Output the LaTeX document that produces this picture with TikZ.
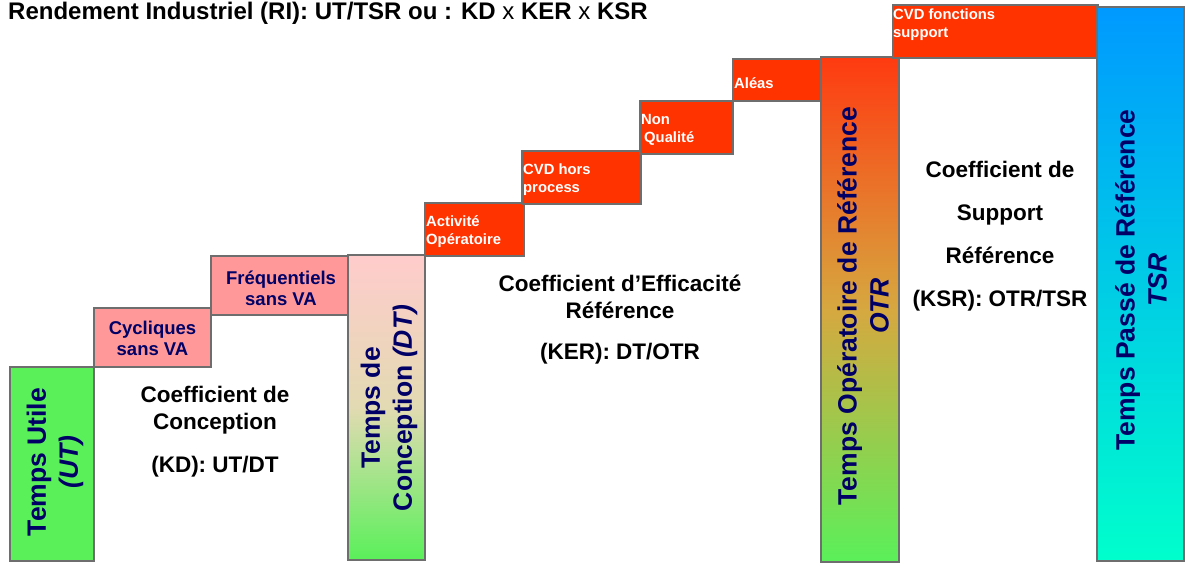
\documentclass[tikz,border=0pt]{standalone}
\usepackage{fontspec}
\setmainfont{Liberation Sans}
\usetikzlibrary{positioning}
\definecolor{bordergray}{RGB}{110,110,110}
\definecolor{navy}{RGB}{0,0,102}
\definecolor{stepred}{RGB}{255,51,0}
\definecolor{steppink}{RGB}{255,153,153}
\definecolor{utgreen}{RGB}{90,240,90}
\tikzset{box/.style={draw=bordergray, line width=1.8pt}}
\tikzset{redbox/.style={box, fill=stepred}}
\tikzset{pinkbox/.style={box, fill=steppink}}
\tikzset{redtxt/.style={text=white, font=\fontsize{14.8}{18}\selectfont\bfseries, align=left, inner sep=0pt, anchor=west}}
\tikzset{pinktxt/.style={text=navy, font=\fontsize{18.5}{21}\selectfont\bfseries, align=center, inner sep=0pt}}
\tikzset{bartxt/.style={text=navy, font=\fontsize{26.5}{32}\selectfont\bfseries, align=center, rotate=90, inner sep=0pt}}
\tikzset{coef/.style={text=black, font=\fontsize{22.5}{27}\selectfont\bfseries, align=center, inner sep=0pt}}

\begin{document}
\begin{tikzpicture}[x=1pt,y=-1pt]
  \useasboundingbox[fill=white] (0,0) rectangle (1186,564);
  \node[anchor=west, inner sep=0pt, font=\fontsize{24}{28}\selectfont\bfseries] (title) at (8,13)
    {Rendement Industriel (RI): UT/TSR ou : KD {\mdseries x} KER {\mdseries x} KSR};
  % steps
  \draw[box, fill=utgreen] (10,367) rectangle (94,561);
  \draw[pinkbox] (94,308) rectangle (211,367);
  \draw[pinkbox] (211,256) rectangle (348,315);
  \shadedraw[box, top color={rgb,255:red,255;green,204;blue,204}, bottom color=utgreen,
    middle color={rgb,255:red,226;green,218;blue,178}] (348,255) rectangle (425,560);
  \draw[redbox] (425,203) rectangle (524,256);
  \draw[redbox] (522,151) rectangle (641,204);
  \draw[redbox] (640,101) rectangle (733,154);
  \draw[redbox] (733,59) rectangle (821,101);
  \shadedraw[box, top color={rgb,255:red,255;green,58;blue,16}, bottom color=utgreen,
    middle color={rgb,255:red,214;green,168;blue,64}] (821,57) rectangle (899,562);
  \draw[redbox] (893,5) rectangle (1098,58);
  \shadedraw[box, top color={rgb,255:red,0;green,153;blue,255},
    bottom color={rgb,255:red,0;green,255;blue,204}] (1097,7) rectangle (1184,561);
  % labels
  \node[bartxt] (ut) at (55,462) {Temps Utile\\\textit{(UT)}};
  \node[pinktxt] (cyc) at (152.5,338) {Cycliques\\sans VA};
  \node[pinktxt] (freq) at (281,288) {Fréquentiels\\sans VA};
  \node[bartxt] (dt) at (389,408) {Temps de\\Conception \textit{(DT)}};
  \node[redtxt] (act) at (426,232) {Activité\\Opératoire};
  \node[redtxt] (cvdh) at (523,180) {CVD hors\\process};
  \node[redtxt] (nonq) at (641,130) {Non\\\hspace*{3pt}Qualité};
  \node[redtxt] (aleas) at (734,83) {Aléas};
  \node[bartxt] (otr) at (863,306) {Temps Opératoire de Référence\\\textit{OTR}};
  \node[redtxt] (cvdf) at (893,25) {CVD fonctions\\support};
  \node[bartxt] (tsr) at (1141,280) {Temps Passé de Référence\\\textit{TSR}};
  % coefficients
  \node[coef] (kd) at (215,410) {Coefficient de\\Conception};
  \node[coef] (kdf) at (215,467) {(KD): UT/DT};
  \node[coef] (ker) at (620,297) {Coefficient d’Efficacité\\Référence};
  \node[coef] (kerf) at (620,354) {(KER): DT/OTR};
  \node[coef, font=\fontsize{22.5}{43}\selectfont\bfseries] (ksr) at (1000,236)
    {Coefficient de\\Support\\Référence\\(KSR): OTR/TSR};
\end{tikzpicture}
\end{document}
